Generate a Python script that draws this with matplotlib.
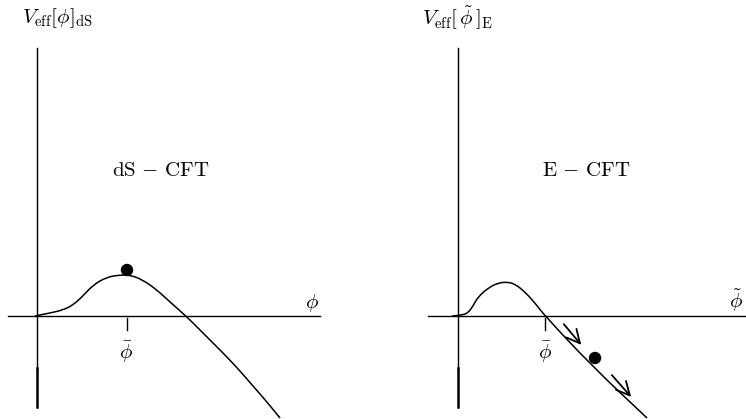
import matplotlib
matplotlib.use("Agg")
import matplotlib.pyplot as plt
from matplotlib.patches import FancyArrowPatch, Circle, PathPatch
from matplotlib.path import Path

plt.rcParams['mathtext.fontset'] = 'cm'
plt.rcParams['font.family'] = ['DejaVu Serif']

# ---- data (figure-pixel coordinates, y downward) ----
left_curve_x = [35, 50, 63, 73, 82, 93, 107, 120, 130, 143, 157, 170, 187, 200, 213, 227, 240, 253, 267, 280]
left_curve_y = [316, 313, 310, 305, 297, 285, 277, 275, 275, 280, 290, 302, 317, 330, 343, 357, 371, 386, 402, 418]

right_curve_x = [452, 462, 468, 473, 478, 488, 498, 507, 515, 525, 535, 545, 593, 647]
right_curve_y = [316, 315, 313, 306, 297, 288, 283, 282, 284, 292, 303, 316, 367, 418]

dots_x = [127, 595]
dots_y = [270, 358]

arrow_start_x = [562, 610]
arrow_start_y = [322, 373]
arrow_end_x = [583, 633]
arrow_end_y = [347, 399]

ticks_x = [127, 545]

fig = plt.figure(figsize=(7.46, 4.19), dpi=100)
ax = fig.add_axes([0, 0, 1, 1])
ax.set_xlim(0, 746)
ax.set_ylim(419, 0)
ax.axis('off')

lw = 1.0


def smooth_path(xs, ys):
    pts = list(zip(xs, ys))
    verts = [pts[0]]
    codes = [Path.MOVETO]
    mid = lambda a, b: ((a[0] + b[0]) / 2, (a[1] + b[1]) / 2)
    verts.append(mid(pts[0], pts[1]))
    codes.append(Path.LINETO)
    for i in range(1, len(pts) - 1):
        verts += [pts[i], mid(pts[i], pts[i + 1])]
        codes += [Path.CURVE3, Path.CURVE3]
    verts.append(pts[-1])
    codes.append(Path.LINETO)
    return Path(verts, codes)


# axes of left panel
ax.plot([8, 320], [316, 316], color='black', lw=lw)
ax.plot([37, 37], [48, 370], color='black', lw=lw)
ax.plot([37, 37], [368, 407], color='black', lw=1.8)
# axes of right panel
ax.plot([428, 746], [316, 316], color='black', lw=lw)
ax.plot([458, 458], [48, 370], color='black', lw=lw)
ax.plot([458, 458], [368, 407], color='black', lw=1.8)

# curves
for cx, cy in [(left_curve_x, left_curve_y), (right_curve_x, right_curve_y)]:
    ax.add_patch(PathPatch(smooth_path(cx, cy), facecolor='none', edgecolor='black',
                           lw=1.1, joinstyle='round'))

# ticks
for tx in ticks_x:
    ax.plot([tx, tx], [318, 330], color='black', lw=lw)

# dots
for dx, dy in zip(dots_x, dots_y):
    ax.add_patch(Circle((dx, dy), 5.5, color='black'))

# arrows
for sx, sy, ex, ey in zip(arrow_start_x, arrow_start_y, arrow_end_x, arrow_end_y):
    ax.add_patch(FancyArrowPatch((sx, sy), (ex, ey), arrowstyle='->,head_length=6,head_width=3',
                                 color='black', lw=1.3, mutation_scale=1.6))

fs = 15
ax.text(22, 18, r'$V_{\rm eff}[\phi]_{\rm dS}$', fontsize=fs, ha='left', va='center')
ax.text(422, 18, r'$V_{\rm eff}[\,\tilde{\phi}\,]_{\rm E}$', fontsize=fs, ha='left', va='center')
ax.text(161, 170, r'$\mathrm{dS}\,-\,\mathrm{CFT}$', fontsize=fs, ha='center', va='center')
ax.text(586, 170, r'$\mathrm{E}\,-\,\mathrm{CFT}$', fontsize=fs, ha='center', va='center')
ax.text(312, 303, r'$\phi$', fontsize=fs, ha='center', va='center')
ax.text(126, 352, r'$\bar{\phi}$', fontsize=fs, ha='center', va='center')
ax.text(545, 352, r'$\bar{\phi}$', fontsize=fs, ha='center', va='center')
ax.text(743, 301, r'$\tilde{\phi}$', fontsize=fs, ha='right', va='center')

fig.savefig('out.png', dpi=100)
